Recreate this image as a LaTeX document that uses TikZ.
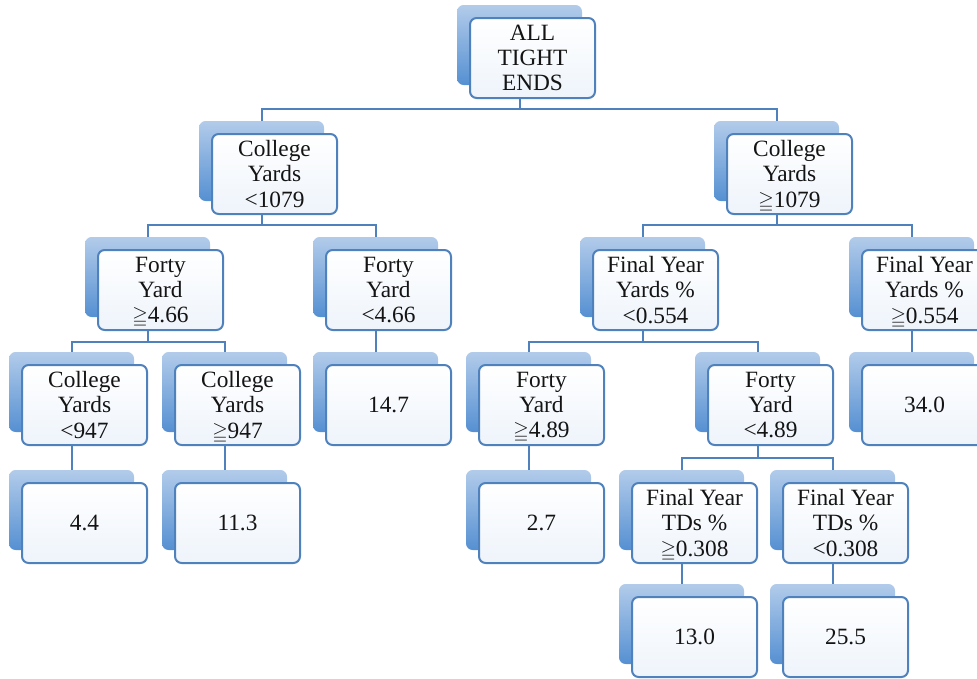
\documentclass[tikz,border=0pt]{standalone}
\usepackage{amssymb}
\usepackage{graphicx}
\usepackage{fontspec}
\setmainfont{Liberation Serif}
\definecolor{edgeblue}{HTML}{4F81BD}
\definecolor{backtop}{HTML}{B2CBEA}
\definecolor{backbot}{HTML}{5590D2}
\definecolor{fronttop}{HTML}{FFFFFF}
\definecolor{frontbot}{HTML}{EEF4FB}
\newcommand\GE{\smash{\scalebox{0.85}{$\geqq$}}}
\tikzset{
  backbox/.style={rectangle, rounded corners=5pt, minimum width=93.75pt, minimum height=60pt,
    top color=backtop, bottom color=backbot, draw=none, inner sep=0pt},
  frontbox/.style={rectangle, rounded corners=5pt, minimum width=93.75pt, minimum height=60pt,
    top color=fronttop, bottom color=frontbot, draw=edgeblue, line width=1.5pt, inner sep=1pt,
    align=center, font=\fontsize{17.5}{18.8}\selectfont, text=black!92},
  conn/.style={draw=edgeblue, line width=1.5pt}
}
\newcommand\TNode[4]{%
  \node[backbox] (#1b) at ({#2+62.5-13},{#3+40-13}) {};
  \node[frontbox] (#1) at ({#2+62.5},{#3+40}) {#4};
}
\newcommand\TConn[3]{%
  \path (0,#3) coordinate (tmpbar);
  \draw[conn] (#1b |- #1.south) -- (#1b |- tmpbar) -| (#2b.north);
}
\newcommand\TLine[2]{%
  \draw[conn] (#1b |- #1.south) -- (#2b.north);
}
\begin{document}
\begin{tikzpicture}[x=0.75pt,y=-0.75pt]
\useasboundingbox (0,0) rectangle (977,678);
\TNode{root}{470}{18}{ALL\\TIGHT\\ENDS}
\TNode{cyL}{212}{134}{College\\Yards\\<1079}
\TNode{cyR}{727}{134}{College\\Yards\\\GE1079}
\TNode{fL}{98}{250}{Forty\\Yard\\\GE4.66}
\TNode{fM}{326}{250}{Forty\\Yard\\<4.66}
\TNode{fyL}{593}{250}{Final Year\\Yards \%\\<0.554}
\TNode{fyR}{862}{250}{Final Year\\Yards \%\\\GE0.554}
\TNode{cya}{22}{365}{College\\Yards\\<947}
\TNode{cyb}{175}{365}{College\\Yards\\\GE947}
\TNode{vfm}{326}{365}{14.7}
\TNode{fa}{479}{365}{Forty\\Yard\\\GE4.89}
\TNode{fb}{708}{365}{Forty\\Yard\\<4.89}
\TNode{vfy}{862}{365}{34.0}
\TNode{va}{22}{483}{4.4}
\TNode{vb}{175}{483}{11.3}
\TNode{vc}{479}{483}{2.7}
\TNode{tda}{632}{483}{Final Year\\TDs \%\\\GE0.308}
\TNode{tdb}{783}{483}{Final Year\\TDs \%\\<0.308}
\TNode{vd}{632}{597}{13.0}
\TNode{ve}{783}{597}{25.5}
\TConn{root}{cyL}{109}
\TConn{root}{cyR}{109}
\TConn{cyL}{fL}{225}
\TConn{cyL}{fM}{225}
\TConn{cyR}{fyL}{225}
\TConn{cyR}{fyR}{225}
\TConn{fL}{cya}{342}
\TConn{fL}{cyb}{342}
\TLine{fM}{vfm}
\TConn{fyL}{fa}{342}
\TConn{fyL}{fb}{342}
\TLine{fyR}{vfy}
\TLine{cya}{va}
\TLine{cyb}{vb}
\TLine{fa}{vc}
\TConn{fb}{tda}{458}
\TConn{fb}{tdb}{458}
\TLine{tda}{vd}
\TLine{tdb}{ve}
\end{tikzpicture}
\end{document}
